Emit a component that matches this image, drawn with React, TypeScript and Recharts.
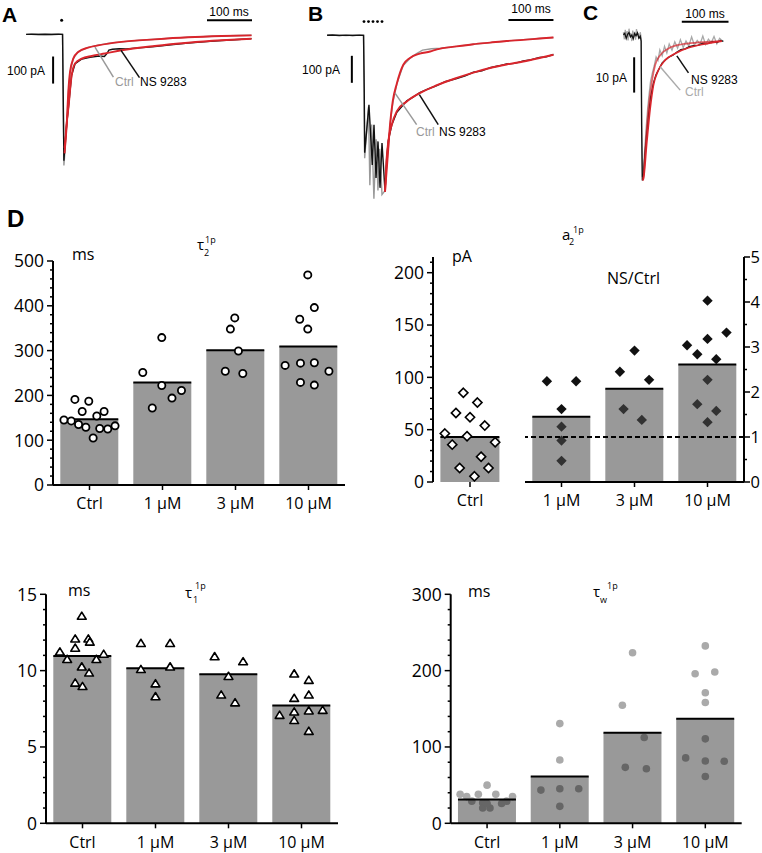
import React from 'react';
import {
  ComposedChart, LineChart, Line, Bar, Scatter, XAxis, YAxis, ReferenceLine, ReferenceDot,
} from 'recharts';

const FONT = "'Open Sans', 'Noto Sans', sans-serif";
const ARIAL = "'Liberation Sans', Arial, sans-serif";
const RED = '#d9252c';
const GRAY = '#999999';
const BLACK = '#111111';

// ---------------- Panel A traces (t in ms, current in pA) ----------------
const ctrlA_t = [-82, -60, -40, -20, -1, 0.5, 2, 4, 8, 12, 16, 23, 34, 56, 78, 100, 130, 170, 204, 240, 278, 320, 353, 390, 419];
const ctrlA_v = [0, 0.5, -0.5, 0.5, 0, -250, -485, -440, -335, -212, -138, -89, -64, -48, -40, -34, -28, -22, -18, -14, -11, -8, -6, -4.5, -3.5];
const nsA_t = [-82, -70, -55, -40, -25, -10, -1, 0.5, 2, 4, 8, 12, 19, 27, 42, 60, 80, 92, 98, 102, 110, 125, 140, 160, 185, 204, 240, 278, 320, 353, 390, 419];
const nsA_v = [0, 0.6, -0.5, 0.4, -0.4, 0.5, 0, -230, -467, -415, -335, -272, -152, -108, -91, -85, -80, -82, -70, -58, -55, -53, -54, -51, -48, -45, -39, -32, -27, -23, -19, -16];
const ctrlFitA_t = [3.5, 4.4, 8.2, 11.8, 15.6, 22.9, 34, 56, 78, 130, 204, 278, 353, 419];
const ctrlFitA_v = [-440, -420, -336, -213, -139, -90, -65, -49, -41, -28, -18.5, -11, -6.3, -3.7];
const nsFitA_t = [3.5, 4.4, 7.8, 11.8, 19.3, 26.7, 41.6, 63.8, 93.3, 130, 204, 278, 353, 419];
const nsFitA_v = [-420, -405, -336, -275, -152, -108, -90, -80, -71, -59, -43, -31, -22, -16];

// ---------------- Panel B traces ----------------
const stimB_t = [0, 10, 20, 30, 40];
const ctrlB_t = [-82, -60, -40, -20, -1, 0.5, 1.5, 10, 13, 17, 22, 27, 31, 35, 40, 46.7, 50.4, 54, 58, 64, 73, 87, 102, 115, 130, 150, 170, 206, 243, 280, 317, 354, 390, 421];
const ctrlB_v = [0, 0.5, -0.5, 0.5, 0, -220, -455, -265, -555, -330, -605, -385, -575, -420, -590, -575, -480, -420, -330, -250, -180, -112, -86, -70, -55, -50, -48, -41, -33, -27, -21, -16, -12, -8];
const nsB_t = [-82, -70, -55, -40, -25, -10, -1, 0.5, 1.5, 11, 18.4, 22.2, 26.7, 31.1, 35.6, 40, 46.7, 50.4, 54, 62, 73, 85, 95, 110, 124, 140, 162, 180, 206, 225, 243, 262, 280, 300, 317, 335, 354, 372, 390, 405, 421];
const nsB_v = [0, 1, -1, 0.5, -0.8, 0.6, 0, -200, -435, -257, -480, -331, -528, -393, -565, -399, -578, -455, -390, -330, -285, -262, -243, -228, -212, -200, -186, -172, -160, -150, -137, -132, -120, -113, -106, -104, -95, -90, -82, -80, -71];
const ctrlFitB_t = [46.7, 50.4, 54, 57.8, 63.8, 72.7, 87.3, 102, 124, 147, 162, 206, 243, 280, 317, 354, 390, 421];
const ctrlFitB_v = [-580, -500, -418, -332, -245, -180, -109, -84, -68, -60, -52, -41, -33, -27, -21, -17, -12, -8];
const nsFitB_t = [46.7, 50.4, 54, 61.6, 72.7, 95, 124, 162, 206, 243, 280, 317, 354, 390, 421];
const nsFitB_v = [-578, -455, -393, -332, -282, -245, -214, -185, -158, -138, -121, -108, -97, -84, -72];

// ---------------- Panel C traces ----------------
const ctrlC_t = [-38, -36, -34, -32, -30, -28, -26, -24, -22, -20, -18, -16, -14, -12, -10, -8, -6, -4, -2, 0, 1, 2.5, 5, 8, 11, 14, 17, 20, 24, 28, 32, 36, 40, 45, 50, 55, 60, 66, 72, 78, 84, 90, 96, 102, 108, 114, 120, 126, 132, 138, 144, 150, 156, 162, 168, 174];
const ctrlC_v = [1.5, -0.5, 2.2, 0.3, 1.8, -0.8, 2.5, 0.5, 1.2, -1.0, 2.0, 0.2, 1.6, -0.6, 2.4, 0.8, 1.0, -0.4, 1.5, 0, -20, -39.5, -37, -31, -25, -20, -16, -12.5, -10, -8, -5.5, -6.5, -3.5, -5.2, -2.5, -4.4, -1.8, -3.6, -1.2, -3.0, -0.6, -2.8, -1.0, -2.4, 0.2, -2.2, -0.8, -1.9, 0.4, -2.0, -0.5, -1.5, 0.3, -1.8, -0.2, -1.0];
const nsC_t = [-38, -35, -32, -29, -26, -23, -20, -17, -14, -11, -8, -5, -2, 0, 1, 2.5, 5, 8, 12, 16, 20, 26, 32, 38, 45, 52, 60, 68, 76, 85, 94, 103, 112, 122, 132, 142, 152, 162, 170, 176];
const nsC_v = [0.8, 1.2, -0.3, 0.9, 1.4, 0.2, 0.7, -0.4, 1.1, 0.5, 1.3, -0.2, 0.4, -1, -25, -40.5, -39, -33, -27, -21.5, -17, -13, -10.5, -9, -7.2, -6.3, -5.5, -5, -4.2, -3.4, -3.2, -2.6, -2.3, -2.2, -1.6, -1.7, -1.2, -1.4, -0.8, -1.1];
const ctrlFitC_t = [3, 4.9, 10.1, 15.6, 22.9, 30, 40.7, 58.5, 87.2, 122.7, 172.8];
const ctrlFitC_v = [-40, -39.5, -29.5, -20.1, -12.5, -7.8, -5.0, -3.1, -1.9, -1.4, -1.0];
const nsFitC_t = [3, 4.9, 12.2, 19.3, 26.3, 37, 51.4, 72.8, 101.3, 137, 172.8];
const nsFitC_v = [-40.5, -40, -29.5, -20.1, -13.5, -9.2, -6.4, -4.5, -2.9, -1.8, -1.0];

// ---------------- Panel D data ----------------
const conc = ['Ctrl', '1 µM', '3 µM', '10 µM'];

const tau2Means = [146.6, 229, 301, 309];
const tau2Vals = [
  [145, 143, 191, 135, 164, 129, 187, 105, 154, 126, 164, 125, 132],
  [251, 172, 222, 329, 194, 211],
  [254, 348, 373, 299, 249],
  [267, 272, 229, 370, 469, 348, 396, 273, 223, 254],
];
const tau2Offs = [
  [-0.35, -0.25, -0.2, -0.15, -0.1, -0.05, -0.01, 0.05, 0.1, 0.14, 0.2, 0.25, 0.35],
  [-0.27, -0.14, -0.01, -0.01, 0.13, 0.26],
  [-0.14, -0.07, -0.01, 0.04, 0.1],
  [-0.32, -0.11, -0.11, -0.12, -0.01, -0.01, 0.08, 0.08, 0.08, 0.28],
];

const a2CtrlMean = [43];
const a2CtrlVals = [[46.3, 35.7, 66, 13.4, 85.2, 43.7, 61.9, 5.4, 75.9, 24.2, 53.9, 13.4, 38]];
const a2CtrlOffs = [[-0.34, -0.24, -0.19, -0.14, -0.09, -0.04, 0, 0.06, 0.1, 0.15, 0.2, 0.25, 0.34]];
const a2NsMeans = [1.45, 2.07, 2.61];
const a2NsVals = [
  [2.24, 2.24, 1.62, 1.23, 0.92, 0.47],
  [2.45, 2.92, 2.27, 1.62, 1.38],
  [4.03, 3.04, 3.18, 3.32, 2.84, 2.73, 2.27, 1.73, 1.58, 1.33],
];
const a2NsOffs = [
  [-0.2, 0.2, 0, 0, 0, 0],
  [-0.2, 0, 0.2, -0.15, 0.1],
  [0, -0.28, 0, 0.26, -0.14, 0.12, 0, -0.14, 0.12, 0],
];

const tau1Means = [10.96, 10.16, 9.76, 7.71];
const tau1Vals = [
  [11.22, 10.73, 12.07, 11.47, 13.56, 10.24, 12.07, 11.87, 9.84, 9.18, 8.96, 10.73, 11.07],
  [11.78, 11.78, 10.07, 10.24, 9.13, 8.29],
  [10.91, 10.58, 9.62, 8.4, 7.89],
  [7.07, 9.78, 8.18, 7.29, 6.73, 9.36, 8.4, 7.36, 6.02, 7.4],
];
const tau1Offs = [
  [-0.31, -0.21, -0.1, -0.1, -0.01, -0.01, 0.08, 0.1, 0.09, -0.1, 0, 0.19, 0.29],
  [-0.2, 0.2, -0.2, 0.2, 0, 0],
  [-0.19, 0.2, 0, -0.1, 0.09],
  [-0.3, -0.1, -0.1, -0.1, -0.1, 0.1, 0.1, 0.1, 0.1, 0.29],
];

const tauwMeans = [31.1, 61.3, 118.7, 136.9];
const tauwVals = [
  [38, 35, 29, 38, 27, 50, 20, 20, 26, 38, 26, 29, 35],
  [43.5, 45.3, 45.3, 22.2, 83, 130.6],
  [223.5, 154.6, 112.4, 73.3, 71.5],
  [232.4, 196, 198.2, 171, 158.2, 110.6, 85.7, 81.7, 81.3, 61.3],
];
const tauwOffs = [
  [-0.37, -0.28, -0.21, -0.12, -0.06, 0, -0.06, 0.04, 0, 0.12, 0.2, 0.27, 0.35],
  [-0.26, 0, 0.26, 0, 0, 0],
  [0, -0.14, 0.16, -0.1, 0.19],
  [0, -0.14, 0.13, 0, 0, 0, -0.27, 0, 0.26, 0],
];

const tau2Majors = [0, 100, 200, 300, 400, 500];
const a2LeftMajors = [0, 50, 100, 150, 200];
const a2RightMajors = [0, 1, 2, 3, 4, 5];
const tau1Majors = [0, 5, 10, 15];
const tauwMajors = [0, 100, 200, 300];

// ---------------- helpers ----------------
const zip = (t: number[], v: number[]) => t.map((x, i) => ({ t: x, v: v[i] }));
const pts = (vals: number[][], offs: number[][]) =>
  vals.flatMap((g, gi) => g.map((y, i) => ({ x: gi + 0.5 + offs[gi][i], y })));
const steps = (max: number, step: number) =>
  Array.from({ length: Math.round(max / step) + 1 }, (_, i) => +(i * step).toFixed(3));

const yTick = (majors: number[], side: 'left' | 'right') => (p: any) => {
  const v = p.payload.value;
  const major = majors.some((m) => Math.abs(m - v) < 1e-6);
  const len = major ? 6 : 3;
  const s = side === 'left' ? -1 : 1;
  const gap = side === 'left' ? 3 : 0.5;
  return (
    <g>
      <line x1={p.x} x2={p.x + s * len} y1={p.y} y2={p.y} stroke="#000" strokeWidth={1.5} />
      {major && (
        <text x={p.x + s * (len + gap)} y={p.y} dy="0.36em" textAnchor={side === 'left' ? 'end' : 'start'}
          fontSize={side === 'left' ? 17.5 : 16.5} fontFamily={FONT} fill="#000">{v}</text>
      )}
    </g>
  );
};

const meanBar = (fill: string, opacity: number) => (p: any) => (
  <g>
    <rect x={p.x} y={p.y} width={p.width} height={p.height} fill={fill} fillOpacity={opacity} />
    <line x1={p.x} x2={p.x + p.width} y1={p.y} y2={p.y} stroke="#000" strokeWidth={2} />
  </g>
);

const openCircle = (p: any) => <circle cx={p.cx} cy={p.cy} r={3.6} fill="#fff" stroke="#000" strokeWidth={1.8} />;
const greyDot = (p: any) => <circle cx={p.cx} cy={p.cy} r={3.8} fill="#aaaaaa" />;
const openDiamond = (p: any) => (
  <polygon points={`${p.cx},${p.cy - 4.6} ${p.cx + 4.6},${p.cy} ${p.cx},${p.cy + 4.6} ${p.cx - 4.6},${p.cy}`}
    fill="#fff" stroke="#000" strokeWidth={1.6} />
);
const fullDiamond = (p: any) => (
  <polygon points={`${p.cx},${p.cy - 5.2} ${p.cx + 5.2},${p.cy} ${p.cx},${p.cy + 5.2} ${p.cx - 5.2},${p.cy}`}
    fill="#111" />
);
const openTriangle = (p: any) => (
  <polygon points={`${p.cx},${p.cy - 4.2} ${p.cx + 4.4},${p.cy + 3} ${p.cx - 4.4},${p.cy + 3}`}
    fill="#fff" stroke="#000" strokeWidth={1.6} strokeLinejoin="round" />
);

function BarPanel(props: any) {
  const {
    box, yW, mt, mr, cats, means, points, domain, ticks, majors, side,
    barFill, barOpacity, pointsFirst, shape, xAxisLine = true, extra = null,
  } = props;
  const data = cats.map((name: string, i: number) => ({ name, y: means[i] }));
  const margin = { top: mt, right: mr, bottom: 0, left: 0 };
  const axes = (visible: boolean) => [
    <XAxis key="xc" xAxisId="cat" dataKey="name" height={30} tickSize={5} tickMargin={8} interval={0}
      axisLine={visible && xAxisLine ? { stroke: '#000', strokeWidth: 2 } : false}
      tickLine={visible ? { stroke: '#000', strokeWidth: 1.5 } : false}
      tick={visible ? { fill: '#000', fontSize: 16, fontFamily: FONT } : false} />,
    <XAxis key="xn" xAxisId="num" dataKey="x" type="number" domain={[0, cats.length]} hide allowDataOverflow />,
    <YAxis key="yv" yAxisId="v" dataKey="y" orientation={side} width={yW} domain={domain} allowDataOverflow
      ticks={ticks} interval={0} tickSize={0} tickMargin={0} tickLine={false}
      axisLine={visible ? { stroke: '#000', strokeWidth: 2 } : false}
      tick={visible ? yTick(majors, side) : false} />,
  ];
  const bar = (
    <Bar key="bar" xAxisId="cat" yAxisId="v" dataKey="y" shape={meanBar(barFill, barOpacity)} isAnimationActive={false} />
  );
  const sc = (
    <Scatter key="sc" xAxisId="num" yAxisId="v" data={points} dataKey="y" shape={shape} isAnimationActive={false} />
  );
  const pos = { position: 'absolute' as const, left: box[0], top: box[1] };
  if (pointsFirst) {
    // points underneath, translucent bars laid over them
    return (
      <>
        <div style={pos}>
          <ComposedChart width={box[2]} height={box[3]} data={data} margin={margin} barCategoryGap="10%">
            {axes(false)}
            {sc}
          </ComposedChart>
        </div>
        <div style={pos}>
          <ComposedChart width={box[2]} height={box[3]} data={data} margin={margin} barCategoryGap="10%">
            {axes(true)}
            {bar}
            {extra}
          </ComposedChart>
        </div>
      </>
    );
  }
  return (
    <div style={pos}>
      <ComposedChart width={box[2]} height={box[3]} data={data} margin={margin} barCategoryGap="10%">
        {axes(true)}
        {bar}
        {sc}
        {extra}
      </ComposedChart>
    </div>
  );
}

function Trace(props: any) {
  const { box, xd, yd, children } = props;
  return (
    <div style={{ position: 'absolute', left: box[0], top: box[1] }}>
      <LineChart width={box[2]} height={box[3]} margin={{ top: 0, right: 0, bottom: 0, left: 0 }}>
        <XAxis type="number" dataKey="t" domain={xd} hide allowDataOverflow />
        <YAxis type="number" domain={yd} hide allowDataOverflow />
        {children}
      </LineChart>
    </div>
  );
}

const raw = (key: string, d: any[], color: string, w = 1.4) => (
  <Line key={key} data={d} dataKey="v" type="linear" stroke={color} strokeWidth={w} dot={false}
    activeDot={false} isAnimationActive={false} />
);
const fit = (key: string, d: any[], color: string, w = 1.9, op = 1) => (
  <Line key={key} data={d} dataKey="v" type="monotone" stroke={color} strokeOpacity={op} strokeWidth={w}
    dot={false} activeDot={false} isAnimationActive={false} />
);
const seg = (key: string, a: number[], b: number[], color = '#000', w = 2) => (
  <ReferenceLine key={key} segment={[{ x: a[0], y: a[1] }, { x: b[0], y: b[1] }]} stroke={color}
    strokeWidth={w} ifOverflow="visible" />
);

export default function App() {
  const T = (x: number, y: number, s: string, o: any = {}) => (
    <text x={x} y={y} fontSize={o.fs ?? 16} fontFamily={o.ff ?? FONT} fontWeight={o.fw ?? 'normal'}
      fill={o.fill ?? '#000'} textAnchor={o.anchor ?? 'start'}>{s}</text>
  );
  const sm = { ff: ARIAL, fs: 12 };
  return (
    <div style={{ position: 'absolute', left: 0, top: 0, width: 762, height: 853, overflow: 'hidden', background: '#fff' }}>
      {/* Panel A */}
      <Trace box={[18, 10, 243, 165]} xd={[-100, 440]} yd={[-520, 90]}>
        {raw('ca', zip(ctrlA_t, ctrlA_v), GRAY)}
        {raw('na', zip(nsA_t, nsA_v), BLACK)}
        {fit('cfa', zip(ctrlFitA_t, ctrlFitA_v), RED)}
        {fit('nfa', zip(nsFitA_t, nsFitA_v), RED)}
        {seg('sbx', [320, 52], [420, 52])}
        {seg('sby', [-22, -82], [-22, -182])}
        {seg('lga', [71, -47], [112, -158], GRAY, 1.5)}
        {seg('lba', [129, -59], [170, -160], BLACK, 1.5)}
        <ReferenceDot x={-3} y={52} r={1.5} fill="#000" stroke="none" />
      </Trace>
      {/* Panel B */}
      <Trace box={[319, 11.2, 243, 197.1]} xd={[-100, 440]} yd={[-640, 90]}>
        {raw('cb', zip(ctrlB_t, ctrlB_v), GRAY)}
        {raw('nb', zip(nsB_t, nsB_v), BLACK)}
        {fit('cfb', zip(ctrlFitB_t, ctrlFitB_v), RED)}
        {fit('nfb', zip(nsFitB_t, nsFitB_v), RED)}
        {seg('sbx', [321, 57], [421, 57])}
        {seg('sby', [-27, -76], [-27, -176])}
        {seg('lgb', [69, -214], [117, -331], GRAY, 1.5)}
        {seg('lbb', [123, -220], [165, -331], BLACK, 1.5)}
        {stimB_t.map((t) => <ReferenceDot key={'s' + t} x={t} y={51} r={1.4} fill="#000" stroke="none" />)}
      </Trace>
      {/* Panel C */}
      <Trace box={[614.8, 10, 135, 180]} xd={[-56, 233]} yd={[-43.2, 7.8]}>
        {raw('cc', zip(ctrlC_t, ctrlC_v), '#a8a8a8', 1.3)}
        {raw('nc', zip(nsC_t, nsC_v), BLACK, 1.3)}
        {fit('cfc', zip(ctrlFitC_t, ctrlFitC_v), RED, 1.7, 0.7)}
        {fit('nfc', zip(nsFitC_t, nsFitC_v), RED, 1.7)}
        {seg('sbx', [87, 4.5], [187, 4.5])}
        {seg('sby', [-15, -5.6], [-15, -15.6])}
        {seg('lgc', [40.7, -8.3], [83.5, -14.9], '#aaaaaa', 1.5)}
        {seg('lbc', [76.4, -5.2], [101.3, -10], BLACK, 1.5)}
      </Trace>

      {/* Panel D: tau2 */}
      <BarPanel box={[0, 238, 355, 277]} yW={53} mt={23} mr={10} cats={conc} means={tau2Means}
        points={pts(tau2Vals, tau2Offs)} domain={[0, 500]} ticks={steps(500, 20)} majors={tau2Majors}
        side="left" barFill="#999999" barOpacity={1} pointsFirst={false} shape={openCircle} />

      {/* Panel D: a2 control (pA) */}
      <BarPanel box={[380, 234, 127, 278]} yW={53} mt={23} mr={0} cats={['Ctrl']} means={a2CtrlMean}
        points={pts(a2CtrlVals, a2CtrlOffs)} domain={[0, 215]} ticks={steps(210, 10)} majors={a2LeftMajors}
        side="left" barFill="#999999" barOpacity={1} pointsFirst={false} shape={openDiamond} xAxisLine={false}
        extra={seg('ax', [0, 0], [0.77, 0])} />
      {/* Panel D: a2 NS/Ctrl ratio */}
      <BarPanel box={[525, 234, 237, 278]} yW={18} mt={23} mr={0} cats={conc.slice(1)} means={a2NsMeans}
        points={pts(a2NsVals, a2NsOffs)} domain={[0, 5]} ticks={steps(5, 0.5)} majors={a2RightMajors}
        side="right" barFill="#4b4b4b" barOpacity={0.57} pointsFirst={true} shape={fullDiamond}
        extra={<ReferenceLine key="one" xAxisId="cat" yAxisId="v" y={1} stroke="#000" strokeWidth={1.8}
          strokeDasharray="5 3" />} />

      {/* Panel D: tau1 */}
      <BarPanel box={[0, 571, 348, 282.3]} yW={46} mt={23.3} mr={10} cats={conc} means={tau1Means}
        points={pts(tau1Vals, tau1Offs)} domain={[0, 15]} ticks={steps(15, 1)} majors={tau1Majors}
        side="left" barFill="#999999" barOpacity={1} pointsFirst={false} shape={openTriangle} />

      {/* Panel D: tau w */}
      <BarPanel box={[380, 571, 371.7, 282.3]} yW={70.7} mt={23.3} mr={10} cats={conc} means={tauwMeans}
        points={pts(tauwVals, tauwOffs)} domain={[0, 300]} ticks={steps(300, 20)} majors={tauwMajors}
        side="left" barFill="#000000" barOpacity={0.4} pointsFirst={true} shape={greyDot} />

      {/* text overlay */}
      <svg width={762} height={853} style={{ position: 'absolute', left: 0, top: 0, pointerEvents: 'none' }}>
        {T(2, 22, 'A', { ff: ARIAL, fw: 'bold', fs: 21 })}
        {T(308, 21, 'B', { ff: ARIAL, fw: 'bold', fs: 21 })}
        {T(583, 20, 'C', { ff: ARIAL, fw: 'bold', fs: 21 })}
        {T(7, 227, 'D', { ff: ARIAL, fw: 'bold', fs: 24 })}

        {T(229, 16, '100 ms', { ...sm, anchor: 'middle' })}
        {T(45, 75, '100 pA', { ...sm, anchor: 'end' })}
        {T(115, 86, 'Ctrl', { ...sm, fill: GRAY })}
        {T(140, 86, 'NS 9283', sm)}

        {T(531, 13, '100 ms', { ...sm, anchor: 'middle' })}
        {T(340, 74, '100 pA', { ...sm, anchor: 'end' })}
        {T(416, 136, 'Ctrl', { ...sm, fill: GRAY })}
        {T(439, 136, 'NS 9283', sm)}

        {T(705, 18, '100 ms', { ...sm, anchor: 'middle' })}
        {T(627, 82, '10 pA', { ...sm, anchor: 'end' })}
        {T(691, 84, 'NS 9283', sm)}
        {T(685, 96, 'Ctrl', { ...sm, fill: '#aaaaaa' })}

        {T(72, 260, 'ms')}
        {T(197, 250, 'τ', { fs: 15 })}
        {T(204, 256, '2', { fs: 9 })}
        {T(205, 243, '1p', { fs: 9 })}

        {T(562, 240, 'a', { fs: 15 })}
        {T(569, 245, '2', { fs: 9 })}
        {T(573, 233, '1p', { fs: 9 })}
        {T(452, 262, 'pA')}
        {T(607, 284, 'NS/Ctrl')}

        {T(68, 596, 'ms')}
        {T(185, 598, 'τ', { fs: 15 })}
        {T(193, 603, '1', { fs: 9 })}
        {T(195, 589, '1p', { fs: 9 })}

        {T(468, 597, 'ms')}
        {T(593, 597, 'τ', { fs: 15 })}
        {T(600, 603, 'w', { fs: 9 })}
        {T(607, 589, '1p', { fs: 9 })}
      </svg>
    </div>
  );
}
